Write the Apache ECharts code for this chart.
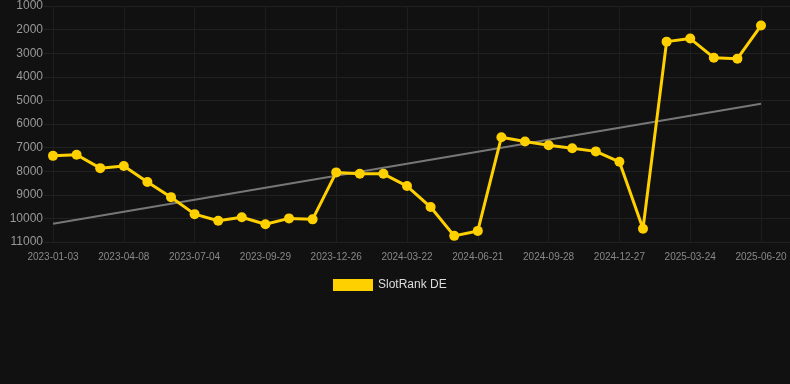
<!DOCTYPE html>
<html>
<head>
<meta charset="utf-8">
<script src="https://cdn.jsdelivr.net/npm/echarts@6/dist/echarts.min.js"></script>
<style>
html,body{margin:0;padding:0;background:#111111;}
#chart{width:790px;height:384px;}
</style>
</head>
<body>
<div id="chart"></div>
<script>
var categories = ['2023-01-03','2023-02-03','2023-03-08','2023-04-08','2023-05-06','2023-06-04','2023-07-04','2023-08-02','2023-09-01','2023-09-29','2023-10-28','2023-11-27','2023-12-26','2024-01-24','2024-02-22','2024-03-22','2024-04-21','2024-05-21','2024-06-21','2024-07-22','2024-08-25','2024-09-28','2024-10-29','2024-11-28','2024-12-27','2025-01-25','2025-02-23','2025-03-24','2025-04-22','2025-05-21','2025-06-20'];
var rankValues = [7350,7300,7870,7780,8460,9100,9820,10100,9950,10250,10000,10040,8050,8110,8110,8630,9520,10740,10530,6560,6740,6900,7030,7160,7600,10440,2510,2380,3190,3230,1830];
var trendStart = 10230;
var trendEnd = 5140;
var yTicks = {min:1000, max:11000, interval:1000};

var font = 'Arial, Liberation Sans, sans-serif';
var chart = echarts.init(document.getElementById('chart'));
chart.setOption({
  backgroundColor:'#111111',
  animation:false,
  grid:[
    {left:53, right:29, top:6, bottom:142},
    {left:44, right:0, top:6, bottom:142}
  ],
  legend:{
    data:['SlotRank DE'], bottom:88, left:328,
    itemWidth:40, itemHeight:12, icon:'rect', itemGap:5,
    textStyle:{color:'#dddddd', fontSize:12, fontFamily:font}
  },
  xAxis:[
    {
      type:'category', data:categories, boundaryGap:false, gridIndex:0,
      axisLine:{show:false}, axisTick:{show:false},
      axisLabel:{color:'#888888', fontSize:10, interval:2, margin:10, fontFamily:font},
      splitLine:{show:true, interval:2, lineStyle:{color:'#1e1e1e', width:1}}
    },
    {
      type:'category', data:categories, gridIndex:1, show:false
    }
  ],
  yAxis:[
    {
      type:'value', inverse:true, min:yTicks.min, max:yTicks.max, interval:yTicks.interval, gridIndex:0,
      axisLine:{show:false}, axisTick:{show:false},
      axisLabel:{color:'#999999', fontSize:12, margin:10, fontFamily:font, formatter:function(v){return String(v);}},
      splitLine:{show:false}
    },
    {
      type:'value', inverse:true, min:yTicks.min, max:yTicks.max, interval:yTicks.interval, gridIndex:1,
      axisLine:{show:false}, axisTick:{show:false}, axisLabel:{show:false},
      splitLine:{lineStyle:{color:'#212121', width:1}}
    }
  ],
  series:[
    {
      name:'SlotRank DE', type:'line', data:rankValues,
      symbol:'circle', symbolSize:10,
      lineStyle:{color:'#FFD000', width:3},
      itemStyle:{color:'#FFD000'},
      z:3
    },
    {
      name:'trend', type:'line', data:[[0,trendStart],[categories.length-1,trendEnd]],
      symbol:'none', lineStyle:{color:'#777777', width:2},
      z:2, silent:true
    }
  ]
});
</script>
</body>
</html>
